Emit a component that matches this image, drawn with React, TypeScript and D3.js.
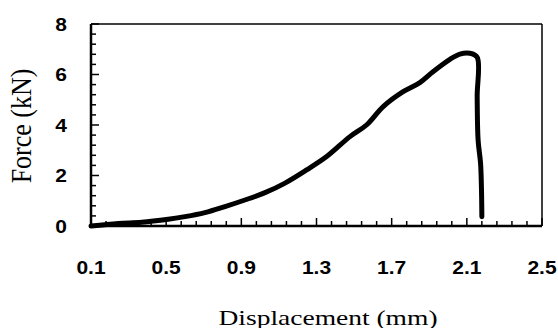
// ForceDisplacement.tsx
import React from 'react';
import * as d3 from 'd3';

// curve (mm, kN)
const displacement = [0.1, 0.245, 0.37, 0.511, 0.6, 0.706, 0.813, 0.919, 1.026, 1.13, 1.247, 1.354, 1.478, 1.566, 1.655, 1.761, 1.85, 1.92, 2.01, 2.063, 2.116, 2.155, 2.155, 2.16, 2.173, 2.178, 2.18];
const force = [0, 0.1, 0.15, 0.27, 0.37, 0.53, 0.77, 1.03, 1.32, 1.69, 2.22, 2.75, 3.54, 4.0, 4.73, 5.32, 5.68, 6.11, 6.6, 6.81, 6.84, 6.68, 5.12, 3.4, 2.49, 1.43, 0.37];

const xTicks = [0.1, 0.5, 0.9, 1.3, 1.7, 2.1, 2.5];
const yTicks = [0, 2, 4, 6, 8];

const W = 558;
const H = 328;
const left = 91, right = 542, top = 24, bottom = 226;

const App = () => {
  const x = d3.scaleLinear().domain([0.1, 2.5]).range([left, right]);
  const y = d3.scaleLinear().domain([0, 8]).range([bottom, top]);

  const points = displacement.map((d, i) => [d, force[i]] as [number, number]);
  const line = d3
    .line<[number, number]>()
    .x((d) => x(d[0]))
    .y((d) => y(d[1]))
    .curve(d3.curveCatmullRom.alpha(0.5));

  // minor ticks: 5 per major step on both axes
  const xMinor = d3.range(0, 31).map((i) => 0.1 + i * 0.08);
  const yMinor = d3.range(0, 21).map((i) => i * 0.4);

  const sans = 'Liberation Sans, Arial, sans-serif';
  const serif = 'Liberation Serif, Times New Roman, serif';

  return (
    <svg width={W} height={H} style={{ position: 'absolute', left: 0, top: 0, background: 'white' }}>
      {/* frame */}
      <line x1={left} x2={right} y1={top} y2={top} stroke="black" strokeWidth={1.5} />
      <line x1={right} x2={right} y1={top} y2={bottom} stroke="black" strokeWidth={1.5} />

      {/* x ticks, pointing inward */}
      {xMinor.map((v, i) => (
        <line key={'xm' + i} x1={x(v)} x2={x(v)} y1={bottom} y2={bottom - (i % 5 === 0 ? 8 : 5)} stroke="black" strokeWidth={1.5} />
      ))}
      {yMinor.map((v, i) => (
        <line key={'ym' + i} x1={left} x2={left + (i % 5 === 0 ? 8 : 5)} y1={y(v)} y2={y(v)} stroke="black" strokeWidth={1.5} />
      ))}

      {/* axes */}
      <line x1={left} x2={left} y1={top} y2={bottom + 1} stroke="black" strokeWidth={2.5} />
      <line x1={left - 1} x2={right} y1={bottom} y2={bottom} stroke="black" strokeWidth={2.5} />

      <path d={line(points) || ''} fill="none" stroke="black" strokeWidth={5} strokeLinejoin="round" strokeLinecap="round" />

      {xTicks.map((v) => (
        <text
          key={'xl' + v}
          transform={`translate(${x(v)},274) scale(1.2,1)`}
          textAnchor="middle"
          fontFamily={sans}
          fontWeight="bold"
          fontSize={17.5}
        >
          {v.toFixed(1)}
        </text>
      ))}
      {yTicks.map((v) => (
        <text
          key={'yl' + v}
          transform={`translate(67,${y(v) + 6.5}) scale(1.2,1)`}
          textAnchor="end"
          fontFamily={sans}
          fontWeight="bold"
          fontSize={17.5}
        >
          {v}
        </text>
      ))}

      <text transform="translate(328,325) scale(1.25,1)" textAnchor="middle" fontFamily={serif} fontSize={22}>
        Displacement (mm)
      </text>
      <text transform="translate(22,126) scale(1.15,1) rotate(-90)" y={8} textAnchor="middle" fontFamily={serif} fontSize={26}>
        Force (kN)
      </text>
    </svg>
  );
};

export default App;
